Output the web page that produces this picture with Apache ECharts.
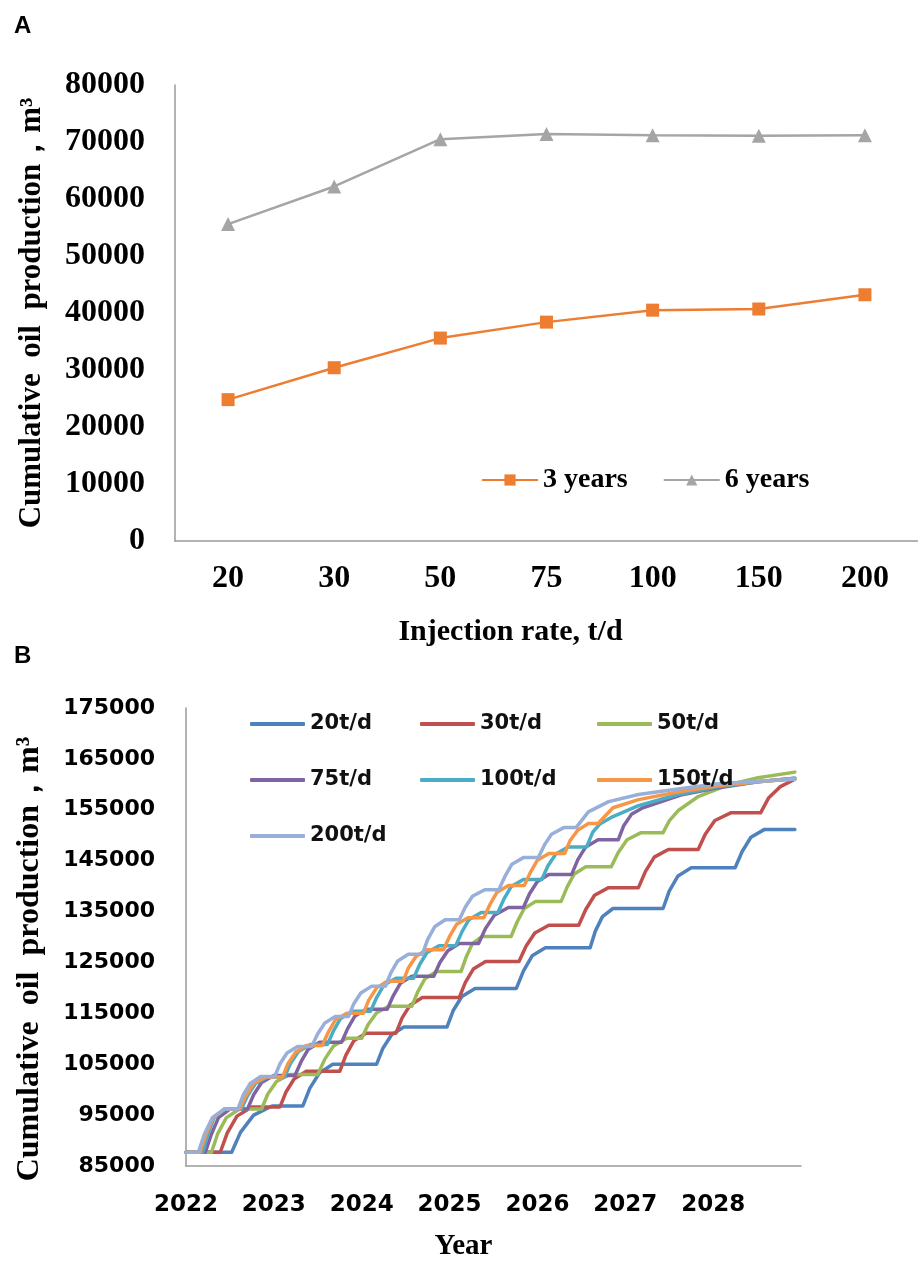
<!DOCTYPE html>
<html>
<head>
<meta charset="utf-8">
<script src="https://cdn.jsdelivr.net/npm/echarts@6/dist/echarts.min.js"></script>
<style>
html,body{margin:0;padding:0;background:#fff;}
#c{width:918px;height:1262px;}
</style>
</head>
<body>
<div id="c"></div>
<script>
// ---------- Panel A data ----------
const rateCats = ['20', '30', '50', '75', '100', '150', '200'];
const oil3y = [24800, 30400, 35600, 38400, 40500, 40700, 43200];
const oil6y = [55600, 62200, 70500, 71400, 71200, 71100, 71200];

// ---------- Panel B data ([year, cumulative oil m3]) ----------
const yearLabels = ['2022', '2023', '2024', '2025', '2026', '2027', '2028'];
const seriesNames = ['20t/d', '30t/d', '50t/d', '75t/d', '100t/d', '150t/d', '200t/d'];

const r20 = [[2022.00,87700],[2022.52,87700],[2022.62,91600],[2022.77,95000],[2022.98,96800],
[2023.33,96800],[2023.41,100300],[2023.52,103300],[2023.67,105000],
[2024.17,105000],[2024.24,108100],[2024.34,110800],[2024.48,112300],
[2024.97,112300],[2025.04,115500],[2025.14,118300],[2025.29,119900],
[2025.76,119900],[2025.84,123300],[2025.94,126300],[2026.09,127900],
[2026.60,127900],[2026.66,131200],[2026.74,134000],[2026.86,135600],
[2027.43,135600],[2027.50,139000],[2027.60,142000],[2027.75,143600],
[2028.25,143600],[2028.33,146800],[2028.43,149600],[2028.58,151100],
[2028.93,151100]];

const r30 = [[2022.00,87700],[2022.39,87700],[2022.47,91500],[2022.58,94800],[2022.75,96600],
[2023.07,96600],[2023.14,99600],[2023.23,102100],[2023.37,103600],
[2023.75,103600],[2023.82,106800],[2023.91,109600],[2024.05,111100],
[2024.39,111100],[2024.46,114100],[2024.55,116600],[2024.69,118100],
[2025.11,118100],[2025.18,121100],[2025.27,123700],[2025.41,125200],
[2025.79,125200],[2025.87,128200],[2025.97,130800],[2026.13,132300],
[2026.47,132300],[2026.55,135400],[2026.65,138200],[2026.81,139700],
[2027.15,139700],[2027.23,142900],[2027.33,145700],[2027.49,147200],
[2027.83,147200],[2027.91,150200],[2028.02,152900],[2028.20,154400],
[2028.54,154400],[2028.63,157300],[2028.76,159500],[2028.93,161000]];

const r50 = [[2022.00,87700],[2022.29,87700],[2022.36,91300],[2022.46,94500],[2022.61,96200],
[2022.86,96200],[2022.93,99100],[2023.03,101600],[2023.18,103000],
[2023.50,103000],[2023.58,106000],[2023.68,108600],[2023.83,110100],
[2024.00,110100],[2024.07,112700],[2024.17,115100],[2024.31,116400],
[2024.57,116400],[2024.64,119300],[2024.72,121800],[2024.85,123200],
[2025.13,123200],[2025.19,126100],[2025.26,128700],[2025.37,130100],
[2025.70,130100],[2025.77,133000],[2025.85,135600],[2025.98,137000],
[2026.27,137000],[2026.34,139900],[2026.42,142400],[2026.55,143800],
[2026.84,143800],[2026.92,146600],[2027.02,149100],[2027.18,150500],
[2027.43,150500],[2027.50,152800],[2027.60,154800],[2027.83,157600],[2028.17,159900],[2028.51,161300],[2028.93,162400]];

const r75 = [[2022.00,87700],[2022.22,87700],[2022.29,91300],[2022.37,94500],[2022.50,96200],
[2022.70,96200],[2022.77,99000],[2022.86,101400],[2023.00,102800],
[2023.24,102800],[2023.31,105500],[2023.39,107900],[2023.52,109300],
[2023.77,109300],[2023.84,112000],[2023.92,114400],[2024.05,115800],
[2024.29,115800],[2024.36,118500],[2024.44,120900],[2024.57,122300],
[2024.82,122300],[2024.89,125000],[2024.98,127300],[2025.11,128700],
[2025.33,128700],[2025.41,131700],[2025.51,134300],[2025.67,135800],
[2025.84,135800],[2025.91,138500],[2026.00,140900],[2026.13,142300],
[2026.39,142300],[2026.46,145200],[2026.55,147700],[2026.69,149100],
[2026.92,149100],[2026.98,151800],[2027.07,154100],[2027.20,155400],[2027.63,157900],[2028.05,159300],[2028.51,160500],[2028.93,161200]];

const r100 = [[2022.00,87700],[2022.19,87700],[2022.25,91300],[2022.32,94500],[2022.44,96200],
[2022.63,96200],[2022.70,98800],[2022.79,101200],[2022.93,102500],
[2023.12,102500],[2023.19,105200],[2023.28,107500],[2023.42,108900],
[2023.61,108900],[2023.68,111600],[2023.76,114000],[2023.90,115400],
[2024.10,115400],[2024.17,118100],[2024.25,120500],[2024.39,121900],
[2024.59,121900],[2024.66,124600],[2024.74,126900],[2024.88,128300],
[2025.07,128300],[2025.14,131000],[2025.22,133400],[2025.36,134800],
[2025.55,134800],[2025.62,137500],[2025.70,139900],[2025.84,141300],
[2026.05,141300],[2026.12,144000],[2026.21,146300],[2026.35,147700],
[2026.56,147700],[2026.63,150600],[2026.71,152200],[2026.84,153500],[2027.15,155800],[2027.60,158000],[2028.05,159500],[2028.51,160500],[2028.93,161200]];

const r150 = [[2022.00,87700],[2022.16,87700],[2022.23,91300],[2022.31,94500],[2022.44,96200],
[2022.61,96200],[2022.68,98800],[2022.77,101200],[2022.91,102500],
[2023.10,102500],[2023.16,105100],[2023.25,107400],[2023.37,108700],
[2023.55,108700],[2023.62,111300],[2023.70,113700],[2023.83,115000],
[2024.02,115000],[2024.08,117600],[2024.17,120000],[2024.29,121300],
[2024.47,121300],[2024.53,123900],[2024.62,126200],[2024.74,127500],
[2024.93,127500],[2025.00,130100],[2025.08,132500],[2025.21,133800],
[2025.39,133800],[2025.46,136400],[2025.54,138800],[2025.67,140100],
[2025.85,140100],[2025.92,142700],[2026.00,145100],[2026.13,146400],
[2026.31,146400],[2026.37,148900],[2026.46,151000],[2026.58,152300],
[2026.69,152300],[2026.86,155400],[2027.15,157000],[2027.60,158500],[2028.05,159700],[2028.51,160500],[2028.93,161100]];

const r200 = [[2022.00,87700],[2022.14,87700],[2022.21,91300],[2022.30,94500],[2022.44,96200],
[2022.59,96200],[2022.65,98900],[2022.73,101200],[2022.85,102600],
[2023.01,102600],[2023.07,105100],[2023.15,107200],[2023.27,108500],
[2023.43,108500],[2023.50,111000],[2023.58,113100],[2023.70,114400],
[2023.85,114400],[2023.91,116900],[2023.99,119000],[2024.11,120300],
[2024.27,120300],[2024.33,122900],[2024.41,125300],[2024.53,126600],
[2024.69,126600],[2024.75,129500],[2024.83,132000],[2024.95,133400],
[2025.11,133400],[2025.18,135900],[2025.26,138000],[2025.40,139300],
[2025.56,139300],[2025.63,141900],[2025.71,144300],[2025.84,145600],
[2026.01,145600],[2026.08,148100],[2026.16,150200],[2026.30,151500],
[2026.44,151500],[2026.58,154600],[2026.81,156600],[2027.15,158000],[2027.60,159100],[2028.05,160100],[2028.51,160600],[2028.93,161000]];

const seriesData = [r20, r30, r50, r75, r100, r150, r200];
const seriesColors = ['#4F81BD', '#C0504D', '#9BBB59', '#8064A2', '#4BACC6', '#F79646', '#98AFD9'];

const serif = '"Liberation Serif", "Times New Roman", serif';
const sans = '"DejaVu Sans", sans-serif';
const axisGray = '#9a9a9a';
const plain = v => String(v);

const chart = echarts.init(document.getElementById('c'), null, {renderer: 'canvas'});

const bottomSeries = seriesNames.map((n, i) => ({
  name: n,
  type: 'line',
  xAxisIndex: 1,
  yAxisIndex: 1,
  data: seriesData[i],
  showSymbol: false,
  symbol: 'none',
  lineStyle: {width: 3.5, color: seriesColors[i], cap: 'round', join: 'round'},
  itemStyle: {color: seriesColors[i]},
  emphasis: {disabled: true}
}));

const legendB = (names, left) => ({
  data: names,
  orient: 'vertical',
  left: left,
  top: 707,
  icon: 'roundRect',
  itemWidth: 55,
  itemHeight: 4,
  itemGap: 32,
  selectedMode: false,
  textStyle: {fontFamily: sans, fontWeight: 'bold', fontSize: 21, color: '#111', lineHeight: 24}
});

chart.setOption({
  animation: false,
  backgroundColor: '#fff',
  graphic: [
    {type: 'text', left: 14, top: 14, style: {text: 'A', font: 'bold 24px "Liberation Sans", Arial, sans-serif', fill: '#000'}},
    {type: 'text', left: 14, top: 644, style: {text: 'B', font: 'bold 24px "Liberation Sans", Arial, sans-serif', fill: '#000'}}
  ],
  legend: [
    {
      data: ['3 years', '6 years'],
      left: 476,
      top: 460,
      itemWidth: 56,
      itemHeight: 14,
      itemGap: 35,
      selectedMode: false,
      textStyle: {fontFamily: serif, fontWeight: 'bold', fontSize: 28, color: '#000', lineHeight: 30}
    },
    legendB(['20t/d', '75t/d', '200t/d'], 245),
    legendB(['30t/d', '100t/d'], 415),
    legendB(['50t/d', '150t/d'], 592)
  ],
  grid: [
    {left: 175, right: 0, top: 85, height: 456},
    {left: 186, right: 117, top: 708, height: 459}
  ],
  xAxis: [
    {
      gridIndex: 0,
      type: 'category',
      data: rateCats,
      boundaryGap: true,
      axisLine: {lineStyle: {color: axisGray, width: 1.5}},
      axisTick: {show: false},
      axisLabel: {fontFamily: serif, fontWeight: 'bold', fontSize: 32, color: '#000', margin: 22},
      name: 'Injection rate, t/d',
      nameLocation: 'middle',
      nameGap: 76,
      nameTextStyle: {fontFamily: serif, fontWeight: 'bold', fontSize: 30, color: '#000', padding: [0, 72, 0, 0]}
    },
    {
      gridIndex: 1,
      type: 'value',
      min: 2022,
      max: 2029,
      interval: 1,
      splitLine: {show: false},
      axisLine: {lineStyle: {color: axisGray, width: 1.5}},
      axisTick: {show: false},
      axisLabel: {
        fontFamily: sans, fontWeight: 'bold', fontSize: 23, color: '#000', margin: 28,
        formatter: v => yearLabels[Math.round(v - 2022)] || ''
      },
      name: 'Year',
      nameLocation: 'middle',
      nameGap: 66,
      nameTextStyle: {fontFamily: serif, fontWeight: 'bold', fontSize: 29, color: '#000', padding: [0, 60, 0, 0]}
    }
  ],
  yAxis: [
    {
      gridIndex: 0,
      type: 'value',
      min: 0,
      max: 80000,
      interval: 10000,
      splitLine: {show: false},
      axisLine: {show: true, lineStyle: {color: axisGray, width: 1.5}},
      axisTick: {show: false},
      axisLabel: {fontFamily: serif, fontWeight: 'bold', fontSize: 32, color: '#000', margin: 30, formatter: plain},
      name: 'Cumulative  oil  production，m³',
      nameLocation: 'middle',
      nameGap: 128,
      nameTextStyle: {fontFamily: serif, fontWeight: 'bold', fontSize: 31, color: '#000'}
    },
    {
      gridIndex: 1,
      type: 'value',
      min: 85000,
      max: 175000,
      interval: 10000,
      splitLine: {show: false},
      axisLine: {show: true, lineStyle: {color: axisGray, width: 1.5}},
      axisTick: {show: false},
      axisLabel: {fontFamily: sans, fontWeight: 'bold', fontSize: 22, color: '#000', margin: 31, formatter: plain},
      name: 'Cumulative  oil  production，m³',
      nameLocation: 'middle',
      nameGap: 140,
      nameTextStyle: {fontFamily: serif, fontWeight: 'bold', fontSize: 32, color: '#000', padding: [0, 44, 0, 0]}
    }
  ],
  series: [
    {
      name: '3 years',
      type: 'line',
      xAxisIndex: 0,
      yAxisIndex: 0,
      data: oil3y,
      symbol: 'rect',
      symbolSize: 13,
      lineStyle: {width: 2.5, color: '#ED7D31'},
      itemStyle: {color: '#ED7D31'},
      emphasis: {disabled: true}
    },
    {
      name: '6 years',
      type: 'line',
      xAxisIndex: 0,
      yAxisIndex: 0,
      data: oil6y,
      symbol: 'triangle',
      symbolSize: 14,
      lineStyle: {width: 2.5, color: '#A5A5A5'},
      itemStyle: {color: '#A5A5A5'},
      emphasis: {disabled: true}
    }
  ].concat(bottomSeries)
});
</script>
</body>
</html>
